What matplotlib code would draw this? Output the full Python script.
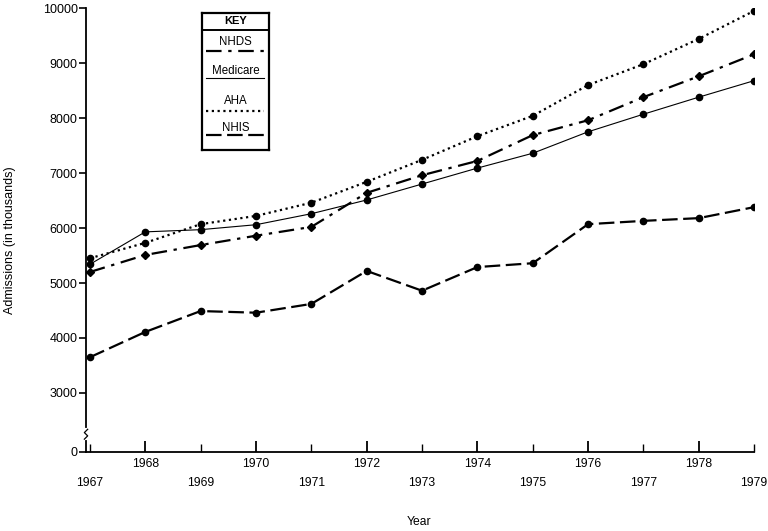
import matplotlib
matplotlib.use("Agg")
import matplotlib.pyplot as plt
from matplotlib.lines import Line2D

plt.rcParams["font.family"] = ["Liberation Sans", "DejaVu Sans"]

years = list(range(1967, 1980))
nhds = [5200, 5510, 5690, 5860, 6020, 6640, 6960, 7220, 7690, 7960, 8380, 8760, 9160]
medicare = [5340, 5930, 5970, 6060, 6260, 6510, 6800, 7090, 7360, 7750, 8070, 8380, 8680]
aha = [5450, 5730, 6070, 6220, 6460, 6840, 7240, 7670, 8040, 8600, 8980, 9440, 9950]
nhis = [3650, 4110, 4490, 4460, 4620, 5220, 4860, 5290, 5360, 6070, 6130, 6180, 6380]
y_ticks = [3000, 4000, 5000, 6000, 7000, 8000, 9000, 10000]
series_names = ["NHDS", "Medicare", "AHA", "NHIS"]

# position used for the "0" tick below the axis break
ZERO_POS = 1927

styles = {
    "NHDS": dict(linestyle=(0, (7, 3, 1.5, 3)), linewidth=1.6, marker="D", markersize=4.2),
    "Medicare": dict(linestyle="-", linewidth=0.8, marker="o", markersize=4.5),
    "AHA": dict(linestyle=(0, (1, 1.6)), linewidth=1.6, marker="o", markersize=4.5),
    "NHIS": dict(linestyle=(0, (7, 2.5)), linewidth=1.6, marker="o", markersize=4.5),
}
data = {"NHDS": nhds, "Medicare": medicare, "AHA": aha, "NHIS": nhis}

fig = plt.figure(figsize=(7.68, 5.31), dpi=100)
ax = fig.add_axes([0.112, 0.1488, 0.870, 0.836])

for name in ["Medicare", "AHA", "NHDS", "NHIS"]:
    ax.plot(years, data[name], color="black", **styles[name])

ax.set_xlim(1966.93, 1979.0)
ax.set_ylim(ZERO_POS, 10000)

ax.spines["top"].set_visible(False)
ax.spines["right"].set_visible(False)
ax.spines["left"].set_linewidth(1.3)
ax.spines["bottom"].set_linewidth(1.3)

ax.set_yticks([ZERO_POS] + y_ticks)
ax.set_yticklabels(["0"] + [str(v) for v in y_ticks])
ax.tick_params(axis="y", direction="out", length=5, width=1.2, labelsize=9, pad=1)

# staggered year labels: even years on the upper row, odd years lower
even = [y for y in years if y % 2 == 0]
odd = [y for y in years if y % 2 == 1]
ax.set_xticks(even)
ax.set_xticklabels([str(y) for y in even])
ax.set_xticks(odd, minor=True)
ax.set_xticklabels([str(y) for y in odd], minor=True)
ax.tick_params(axis="x", which="major", direction="in", length=8, width=1.3, labelsize=8.7, pad=4)
ax.tick_params(axis="x", which="minor", direction="in", length=6, width=1.0, labelsize=8.7, pad=18)

# axis break mark on the y axis
ax.plot([1966.93, 1966.93], [2180, 2330], color="white", linewidth=3, clip_on=False, zorder=5)
ax.plot([1966.90, 1966.96, 1966.90, 1966.96], [2160, 2220, 2280, 2340],
        color="black", linewidth=0.9, clip_on=False, zorder=6)

fig.text(0.013, 0.548, "Admissions (in thousands)", rotation=90, ha="center", va="center", fontsize=9)
fig.text(0.545, 0.017, "Year", ha="center", va="center", fontsize=8.7)

# key box
kax = fig.add_axes([0.263, 0.7175, 0.0872, 0.258])
kax.set_xlim(0, 1)
kax.set_ylim(0, 1)
kax.set_xticks([])
kax.set_yticks([])
for sp in kax.spines.values():
    sp.set_linewidth(1.6)
kax.axhline(0.876, color="black", linewidth=1.4)
kax.text(0.5, 0.94, "KEY", ha="center", va="center", fontsize=8, fontweight="bold")
key_text_y = [0.79, 0.575, 0.36, 0.16]
key_line_y = [0.725, 0.525, 0.285, 0.11]
for name, ty, ly in zip(series_names, key_text_y, key_line_y):
    kax.text(0.5, ty, name, ha="center", va="center", fontsize=8.3)
    st = {k: v for k, v in styles[name].items() if k not in ("marker", "markersize")}
    kax.add_line(Line2D([0.06, 0.92], [ly, ly], color="black", **st))

fig.savefig("out.png", dpi=100)
